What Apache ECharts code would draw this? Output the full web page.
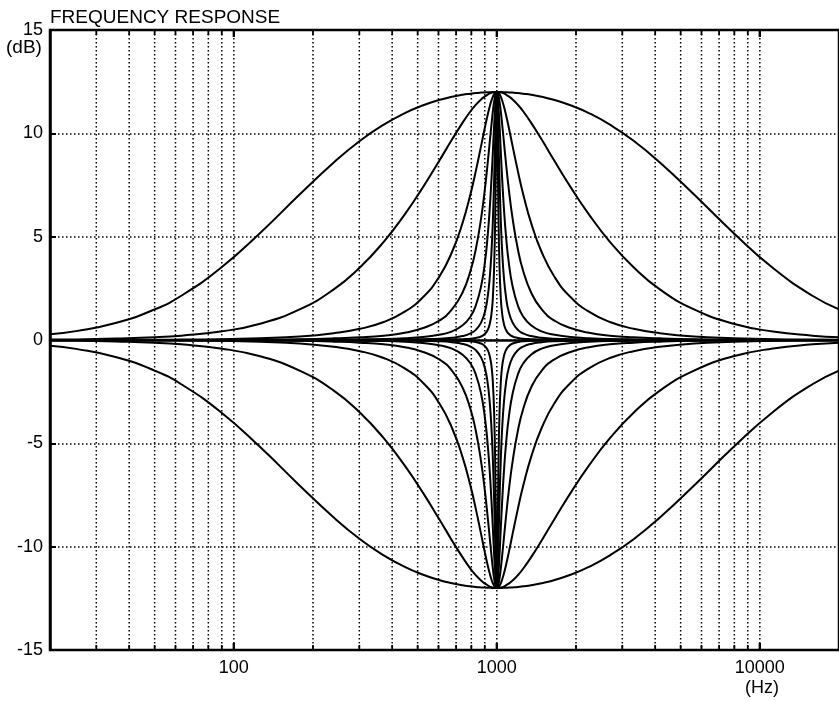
<!DOCTYPE html>
<html>
<head>
<meta charset="utf-8">
<script src="https://cdn.jsdelivr.net/npm/echarts@6/dist/echarts.min.js"></script>
<style>
html,body{margin:0;padding:0;background:#fff}
#chart{width:839px;height:701px}
</style>
</head>
<body>
<div id="chart"></div>
<script>
// Frequency points (Hz), denser around the 1 kHz centre
const freqs = [20, 25.1, 35.5, 50, 63.1, 89.1, 125.9, 177.8, 239.9, 302, 371.5, 446.7, 524.8, 602.6, 676.1, 741.3, 794.3, 831.8, 871, 901.6, 922.6, 939.7, 955, 966.1, 977.2, 986.3, 993.1, 1000, 1006.9, 1013.9, 1023.3, 1035.1, 1047.1, 1064.1, 1083.9, 1109.2, 1148.2, 1202.3, 1258.9, 1349, 1479.1, 1659.6, 1905.5, 2238.7, 2691.5, 3311.3, 4168.7, 5623.4, 7943.3, 11220, 15849, 20000];

// +12 dB boost responses, widest to narrowest (dB)
const boost1 = [0.28,0.43,0.82,1.48,2.14,3.48,5.18,7.04,8.59,9.64,10.42,10.98,11.36,11.61,11.77,11.87,11.92,11.95,11.97,11.98,11.99,11.99,12,12,12,12,12,12,12,12,12,12,12,11.99,11.99,11.98,11.97,11.95,11.92,11.87,11.77,11.61,11.36,10.98,10.42,9.64,8.59,7.04,5.18,3.48,2.14,1.48];
const boost2 = [0.02,0.03,0.07,0.13,0.21,0.41,0.79,1.48,2.45,3.52,4.75,6.08,7.41,8.65,9.71,10.52,11.07,11.38,11.64,11.79,11.87,11.93,11.96,11.98,11.99,12,12,12,12,12,11.99,11.98,11.96,11.93,11.87,11.79,11.64,11.38,11.07,10.52,9.71,8.65,7.41,6.08,4.75,3.52,2.45,1.48,0.79,0.41,0.21,0.13];
const boost3 = [0,0,0.01,0.01,0.02,0.04,0.09,0.17,0.33,0.54,0.87,1.37,2.08,3.04,4.27,5.68,7.07,8.17,9.38,10.31,10.89,11.3,11.6,11.77,11.9,11.96,11.99,12,11.99,11.96,11.9,11.77,11.6,11.3,10.89,10.31,9.38,8.17,7.07,5.68,4.27,3.04,2.08,1.37,0.87,0.54,0.33,0.17,0.09,0.04,0.02,0.01];
const boost4 = [0,0,0,0,0,0.01,0.02,0.04,0.08,0.13,0.21,0.35,0.58,0.93,1.49,2.31,3.35,4.39,5.87,7.35,8.54,9.57,10.47,11.07,11.56,11.83,11.96,12,11.96,11.83,11.56,11.07,10.47,9.57,8.54,7.35,5.87,4.39,3.35,2.31,1.49,0.93,0.58,0.35,0.21,0.13,0.08,0.04,0.02,0.01,0,0];
const boost5 = [0,0,0,0,0,0,0,0.01,0.02,0.03,0.05,0.09,0.15,0.25,0.42,0.71,1.14,1.67,2.59,3.79,5.02,6.36,7.87,9.13,10.44,11.36,11.83,12,11.83,11.36,10.44,9.13,7.87,6.36,5.02,3.79,2.59,1.67,1.14,0.71,0.42,0.25,0.15,0.09,0.05,0.03,0.02,0.01,0,0,0,0];
const boost6 = [0,0,0,0,0,0,0,0,0,0.01,0.01,0.02,0.04,0.06,0.11,0.19,0.32,0.49,0.84,1.38,2.07,3.01,4.35,5.81,7.87,9.92,11.36,12,11.36,9.92,7.87,5.81,4.35,3.01,2.07,1.38,0.84,0.49,0.32,0.19,0.11,0.06,0.04,0.02,0.01,0.01,0,0,0,0,0,0];
const boost7 = [0,0,0,0,0,0,0,0,0,0,0,0,0.01,0.01,0.02,0.04,0.06,0.1,0.17,0.3,0.48,0.77,1.3,2.07,3.63,6.17,9.39,12,9.39,6.17,3.63,2.07,1.3,0.77,0.48,0.3,0.17,0.1,0.06,0.04,0.02,0.01,0.01,0,0,0,0,0,0,0,0,0];

// -12 dB cut responses, widest to narrowest (dB)
const cut1 = [-0.28,-0.43,-0.82,-1.48,-2.14,-3.48,-5.18,-7.04,-8.59,-9.64,-10.42,-10.98,-11.36,-11.61,-11.77,-11.87,-11.92,-11.95,-11.97,-11.98,-11.99,-11.99,-12,-12,-12,-12,-12,-12,-12,-12,-12,-12,-12,-11.99,-11.99,-11.98,-11.97,-11.95,-11.92,-11.87,-11.77,-11.61,-11.36,-10.98,-10.42,-9.64,-8.59,-7.04,-5.18,-3.48,-2.14,-1.48];
const cut2 = [-0.02,-0.03,-0.07,-0.13,-0.21,-0.41,-0.79,-1.48,-2.45,-3.52,-4.75,-6.08,-7.41,-8.65,-9.71,-10.52,-11.07,-11.38,-11.64,-11.79,-11.87,-11.93,-11.96,-11.98,-11.99,-12,-12,-12,-12,-12,-11.99,-11.98,-11.96,-11.93,-11.87,-11.79,-11.64,-11.38,-11.07,-10.52,-9.71,-8.65,-7.41,-6.08,-4.75,-3.52,-2.45,-1.48,-0.79,-0.41,-0.21,-0.13];
const cut3 = [0,0,-0.01,-0.01,-0.02,-0.04,-0.09,-0.17,-0.33,-0.54,-0.87,-1.37,-2.08,-3.04,-4.27,-5.68,-7.07,-8.17,-9.38,-10.31,-10.89,-11.3,-11.6,-11.77,-11.9,-11.96,-11.99,-12,-11.99,-11.96,-11.9,-11.77,-11.6,-11.3,-10.89,-10.31,-9.38,-8.17,-7.07,-5.68,-4.27,-3.04,-2.08,-1.37,-0.87,-0.54,-0.33,-0.17,-0.09,-0.04,-0.02,-0.01];
const cut4 = [0,0,0,0,0,-0.01,-0.02,-0.04,-0.08,-0.13,-0.21,-0.35,-0.58,-0.93,-1.49,-2.31,-3.35,-4.39,-5.87,-7.35,-8.54,-9.57,-10.47,-11.07,-11.56,-11.83,-11.96,-12,-11.96,-11.83,-11.56,-11.07,-10.47,-9.57,-8.54,-7.35,-5.87,-4.39,-3.35,-2.31,-1.49,-0.93,-0.58,-0.35,-0.21,-0.13,-0.08,-0.04,-0.02,-0.01,0,0];
const cut5 = [0,0,0,0,0,0,0,-0.01,-0.02,-0.03,-0.05,-0.09,-0.15,-0.25,-0.42,-0.71,-1.14,-1.67,-2.59,-3.79,-5.02,-6.36,-7.87,-9.13,-10.44,-11.36,-11.83,-12,-11.83,-11.36,-10.44,-9.13,-7.87,-6.36,-5.02,-3.79,-2.59,-1.67,-1.14,-0.71,-0.42,-0.25,-0.15,-0.09,-0.05,-0.03,-0.02,-0.01,0,0,0,0];
const cut6 = [0,0,0,0,0,0,0,0,0,-0.01,-0.01,-0.02,-0.04,-0.06,-0.11,-0.19,-0.32,-0.49,-0.84,-1.38,-2.07,-3.01,-4.35,-5.81,-7.87,-9.92,-11.36,-12,-11.36,-9.92,-7.87,-5.81,-4.35,-3.01,-2.07,-1.38,-0.84,-0.49,-0.32,-0.19,-0.11,-0.06,-0.04,-0.02,-0.01,-0.01,0,0,0,0,0,0];
const cut7 = [0,0,0,0,0,0,0,0,0,0,0,0,-0.01,-0.01,-0.02,-0.04,-0.06,-0.1,-0.17,-0.3,-0.48,-0.77,-1.3,-2.07,-3.63,-6.17,-9.39,-12,-9.39,-6.17,-3.63,-2.07,-1.3,-0.77,-0.48,-0.3,-0.17,-0.1,-0.06,-0.04,-0.02,-0.01,-0.01,0,0,0,0,0,0,0,0,0];

// Vertical grid positions (Hz) and labelled decades
const gridFreqs = [30,40,50,60,70,80,90,100,200,300,400,500,600,700,800,900,1000,2000,3000,4000,5000,6000,7000,8000,9000,10000];
const decadeLabels = [100, 1000, 10000];

const curves = [boost1, boost2, boost3, boost4, boost5, boost6, boost7, cut1, cut2, cut3, cut4, cut5, cut6, cut7];

const FONT = '"Liberation Sans", Arial, Helvetica, sans-serif';
const chart = echarts.init(document.getElementById('chart'), null, {renderer: 'canvas'});

const dotted = {stroke: '#000', lineWidth: 1.5, lineDash: [1.5, 2.5]};

const gridSeries = {
  type: 'custom',
  z: 1,
  silent: true,
  data: gridFreqs.map(f => [f, 0]),
  encode: {x: 0, y: 1},
  renderItem: function (params, api) {
    const f = api.value(0);
    const top = api.coord([f, 15]);
    const bot = api.coord([f, -15]);
    const major = decadeLabels.indexOf(f) >= 0;
    const tw = major ? 2.4 : 1.8;
    const tl = major ? 7 : 5;
    return {
      type: 'group',
      children: [
        {type: 'line', shape: {x1: top[0], y1: top[1], x2: bot[0], y2: bot[1]}, style: dotted},
        {type: 'line', shape: {x1: top[0], y1: top[1], x2: top[0], y2: top[1] + tl}, style: {stroke: '#000', lineWidth: tw}},
        {type: 'line', shape: {x1: bot[0], y1: bot[1], x2: bot[0], y2: bot[1] - tl}, style: {stroke: '#000', lineWidth: tw}}
      ]
    };
  }
};

const curveSeries = curves.map(vals => ({
  type: 'line',
  z: 3,
  silent: true,
  showSymbol: false,
  smooth: 0.5,
  lineStyle: {color: '#000', width: 2},
  data: freqs.map((f, i) => [f, vals[i]])
}));

chart.setOption({
  animation: false,
  backgroundColor: '#fff',
  grid: {left: 50, right: -4, top: 30, bottom: 51, show: true, borderColor: '#000', borderWidth: 2.5, backgroundColor: 'transparent'},
  xAxis: {
    type: 'log',
    logBase: 10,
    min: 20,
    max: 20000,
    axisLine: {show: true, lineStyle: {color: '#000', width: 2.5}},
    axisTick: {show: false},
    splitLine: {show: false},
    minorTick: {show: false},
    axisLabel: {
      show: true,
      showMinLabel: false,
      showMaxLabel: false,
      color: '#000',
      fontSize: 18,
      fontFamily: FONT,
      margin: 9,
      formatter: function (v) {
        const r = Math.round(v);
        return decadeLabels.indexOf(r) >= 0 ? String(r) : '';
      }
    }
  },
  yAxis: {
    type: 'value',
    min: -15,
    max: 15,
    interval: 5,
    axisLine: {show: true, lineStyle: {color: '#000', width: 2.5}},
    axisTick: {show: true, inside: true, length: 6, lineStyle: {color: '#000', width: 2}},
    splitLine: {show: true, lineStyle: {color: '#000', width: 1.5, type: [1.5, 2.5]}},
    axisLabel: {color: '#000', fontSize: 18, fontFamily: FONT, margin: 7}
  },
  graphic: [
    {type: 'text', left: 50, top: 8, style: {text: 'FREQUENCY RESPONSE', font: '19px ' + FONT, fill: '#000'}},
    {type: 'text', left: 6, top: 38, style: {text: '(dB)', font: '19px ' + FONT, fill: '#000'}},
    {type: 'text', left: 745, top: 679, style: {text: '(Hz)', font: '18px ' + FONT, fill: '#000'}}
  ],
  series: [gridSeries].concat(curveSeries)
});
</script>
</body>
</html>
